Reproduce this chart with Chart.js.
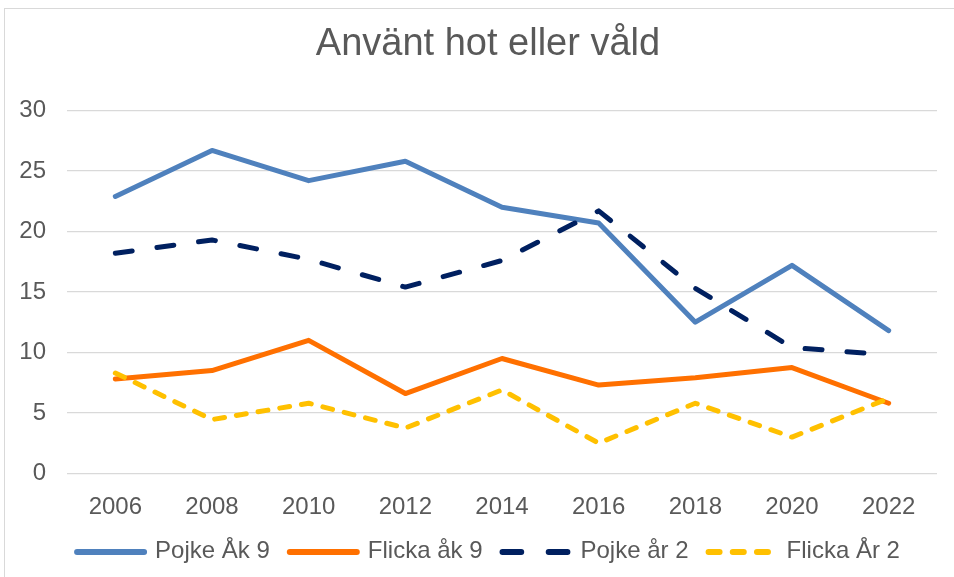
<!DOCTYPE html>
<html lang="sv">
<head>
  <meta charset="UTF-8" />
  <title>Använt hot eller våld</title>
  <style>
    html, body { margin: 0; padding: 0; background: #fff; overflow: hidden; }
    .frame {
      position: absolute; left: 4px; top: 8px;
      width: 966px; height: 580px;
      border: 1px solid #d9d9d9;
    }
  </style>
</head>
<body>
  <div class="frame">
    <canvas id="chart" width="966" height="580"></canvas>
  </div>

  <script src="https://cdn.jsdelivr.net/npm/chart.js"></script>
  <script>
    // data
    const years = ['2006', '2008', '2010', '2012', '2014', '2016', '2018', '2020', '2022'];
    const pojkeAk9 = [22.9, 26.7, 24.2, 25.8, 22.0, 20.7, 12.5, 17.2, 11.8];
    const flickaAk9 = [7.8, 8.5, 11.0, 6.6, 9.5, 7.3, 7.9, 8.75, 5.8];
    const pojkeAr2 = [18.2, 19.3, 17.7, 15.4, 17.6, 21.7, 15.3, 10.4, 9.8];
    const flickaAr2 = [8.3, 4.45, 5.8, 3.75, 6.9, 2.5, 5.8, 3.0, 6.2];

    const textColor = '#595959';
    const font = 'Liberation Sans, Arial, sans-serif';
    const sampleWidth = 67;

    function serie(label, data, color, dash, order) {
      return {
        label: label,
        data: data,
        borderColor: color,
        backgroundColor: color,
        borderWidth: 5,
        borderDash: dash,
        borderCapStyle: 'round',
        borderJoinStyle: 'round',
        pointRadius: 0,
        tension: 0,
        order: order
      };
    }

    // legend samples with dash + round caps (the built-in one draws them solid)
    const legendLines = {
      id: 'legendLines',
      afterDraw(chart) {
        const boxes = chart.legend.legendHitBoxes;
        const items = chart.legend.legendItems;
        const ctx = chart.ctx;
        items.forEach((item, i) => {
          const ds = chart.data.datasets[item.datasetIndex];
          const b = boxes[i];
          const y = b.top + b.height / 2 + 1;
          ctx.save();
          ctx.strokeStyle = ds.borderColor;
          ctx.lineWidth = 6;
          ctx.lineCap = 'round';
          ctx.setLineDash(ds.borderDash.length ? ds.borderDash.map(v => v * 1.1) : []);
          ctx.beginPath();
          ctx.moveTo(b.left + 1, y);
          ctx.lineTo(b.left + sampleWidth + 1, y);
          ctx.stroke();
          ctx.restore();
        });
      }
    };

    new Chart(document.getElementById('chart'), {
      type: 'line',
      data: {
        labels: years,
        datasets: [
          serie('Pojke Åk 9', pojkeAk9, '#4f81bd', [], 4),
          serie('Flicka åk 9', flickaAk9, '#ff7000', [], 3),
          serie('Pojke år 2', pojkeAr2, '#002060', [17, 25], 2),
          serie('Flicka År 2', flickaAr2, '#ffc000', [10, 12], 1)
        ]
      },
      options: {
        responsive: false,
        animation: false,
        layout: { padding: { left: 34, right: 34, top: 0, bottom: 16 } },
        plugins: {
          title: {
            display: true,
            text: 'Använt hot eller våld',
            color: textColor,
            font: { family: font, size: 38, weight: 'normal' },
            padding: { top: 13, bottom: 42.9 }
          },
          legend: {
            position: 'bottom',
            labels: {
              color: textColor,
              font: { family: font, size: 24 },
              usePointStyle: true,
              pointStyle: 'line',
              pointStyleWidth: sampleWidth,
              padding: 19,
              sort: (a, b) => a.datasetIndex - b.datasetIndex,
              generateLabels: chart => {
                const items = Chart.defaults.plugins.legend.labels.generateLabels(chart);
                items.forEach(it => { it.strokeStyle = 'rgba(0,0,0,0)'; });
                return items;
              }
            }
          },
          tooltip: { enabled: false }
        },
        scales: {
          x: {
            offset: true,
            grid: { display: false, drawTicks: false },
            border: { display: false },
            ticks: {
              color: textColor,
              font: { family: font, size: 24 },
              padding: 20,
              maxRotation: 0
            },
            afterFit: s => { s.height = 46.6; }
          },
          y: {
            min: 0,
            max: 30,
            grid: { color: '#d9d9d9', lineWidth: 1.2, drawTicks: false },
            border: { display: false },
            ticks: {
              stepSize: 5,
              color: textColor,
              font: { family: font, size: 24 },
              padding: 21
            },
            afterFit: s => { s.width = 28; },
            // labels reach into the left padding, so don't clip them to the axis box
            afterUpdate: s => { s._computeLabelArea = () => null; }
          }
        }
      },
      plugins: [legendLines]
    });
  </script>
</body>
</html>
